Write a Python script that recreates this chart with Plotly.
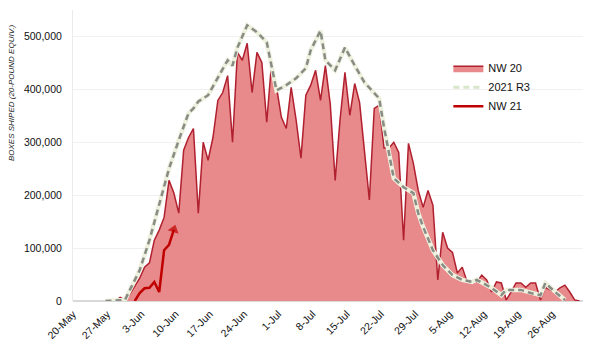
import plotly.graph_objects as go
import pandas as pd

# NW 20 daily boxes (thousands), starting 27-May
nw20_start = "2021-05-27"
nw20_values = [0, 7, 2, 13, 28, 43, 64, 72, 115, 134, 158, 228, 204, 166, 285, 309, 326, 166,
               300, 266, 309, 379, 394, 426, 300, 470, 455, 487, 394, 470, 451, 338, 451, 404,
               347, 326, 404, 343, 270, 389, 408, 436, 379, 445, 372, 228, 343, 432, 351, 411,
               375, 285, 191, 364, 370, 289, 289, 300, 281, 115, 298, 260, 209, 177, 209, 181,
               40, 130, 100, 92, 53, 64, 36, 34, 36, 49, 40, 17, 36, 34, 2, 17, 34, 34, 26, 34,
               34, 2, 26, 21, 17, 25, 30, 17, 2, 0]

# 2021 R3 projection (thousands)
r3_dates = ["2021-05-25", "2021-05-29", "2021-05-30", "2021-06-01", "2021-06-03", "2021-06-05",
            "2021-06-07", "2021-06-09", "2021-06-11", "2021-06-12", "2021-06-13", "2021-06-15",
            "2021-06-17", "2021-06-19", "2021-06-20", "2021-06-21", "2021-06-23", "2021-06-25",
            "2021-06-27", "2021-06-28", "2021-06-29", "2021-07-01", "2021-07-03", "2021-07-05",
            "2021-07-06", "2021-07-08", "2021-07-09", "2021-07-11", "2021-07-13", "2021-07-15",
            "2021-07-17", "2021-07-20", "2021-07-21", "2021-07-23", "2021-07-25", "2021-07-27",
            "2021-07-28", "2021-07-29", "2021-07-31", "2021-08-02", "2021-08-04", "2021-08-06",
            "2021-08-08", "2021-08-09", "2021-08-12", "2021-08-14", "2021-08-15", "2021-08-18",
            "2021-08-20", "2021-08-22", "2021-08-23", "2021-08-25", "2021-08-27"]
r3_values = [0, 2, 21, 58, 115, 181,
             250, 304, 355, 364, 377, 389,
             423, 455, 445, 479, 521, 508,
             489, 442, 398, 408, 421, 440,
             474, 511, 455, 436, 479, 445,
             413, 383, 328, 232, 215, 204,
             166, 140, 96, 68, 49, 40,
             36, 40, 25, 11, 21, 21,
             15, 11, 34, 17, 2]

# NW 21 daily boxes (thousands), starting 31-May
nw21_start = "2021-05-31"
nw21_values = [0, 15, 24, 25, 36, 17, 96, 106, 135]

tick_dates = pd.date_range("2021-05-20", "2021-08-26", freq="7D")
y_ticks = [0, 100000, 200000, 300000, 400000, 500000]

nw20_x = pd.date_range(nw20_start, periods=len(nw20_values), freq="D")
nw21_x = pd.date_range(nw21_start, periods=len(nw21_values), freq="D")

fig = go.Figure()

fig.add_trace(go.Scatter(
    x=nw20_x, y=[v * 1000 for v in nw20_values], name="NW 20",
    mode="lines", fill="tozeroy", fillcolor="#E8898B",
    line=dict(color="#B0202F", width=1.5),
))

fig.add_trace(go.Scatter(
    x=pd.to_datetime(r3_dates), y=[v * 1000 for v in r3_values],
    mode="lines", showlegend=False, hoverinfo="skip",
    line=dict(color="#EFF1DF", width=4.5),
))
fig.add_trace(go.Scatter(
    x=pd.to_datetime(r3_dates), y=[v * 1000 for v in r3_values], name="2021 R3",
    mode="lines", showlegend=False,
    line=dict(color="#878C84", width=2.5, dash="6px,4px"),
))
fig.add_trace(go.Scatter(
    x=[None], y=[None], name="2021 R3", mode="lines",
    line=dict(color="#D8E6CC", width=3, dash="6px,4px"),
))

fig.add_trace(go.Scatter(
    x=nw21_x, y=[v * 1000 for v in nw21_values], name="NW 21",
    mode="lines+markers",
    line=dict(color="#C00000", width=2.5),
    marker=dict(symbol="triangle-up", angleref="previous", color="#C00000",
                line=dict(width=0),
                size=[0] * (len(nw21_values) - 1) + [10]),
))

font_family = "Liberation Sans, Arial, sans-serif"

fig.update_layout(
    width=600, height=352,
    margin=dict(l=73, r=17, t=10, b=51),
    paper_bgcolor="white", plot_bgcolor="white",
    font=dict(family=font_family, size=11, color="#111111"),
    showlegend=True,
    legend=dict(x=0.736, y=0.85, xanchor="left", yanchor="top",
                bgcolor="rgba(0,0,0,0)", font=dict(size=11, color="#111111"),
                tracegroupgap=0, itemwidth=30),
    xaxis=dict(
        type="date",
        range=["2021-05-18 08:40", "2021-08-30 17:00"],
        tickvals=tick_dates, tickformat="%-d-%b", tickangle=-45,
        showgrid=False, showline=False, zeroline=False,
        tickfont=dict(size=10.5, color="#111111"),
        ticks="", ticklabelshift=-8, ticklabelstandoff=4,
    ),
    yaxis=dict(
        range=[0, 550000], tickvals=y_ticks, tickformat=",",
        showgrid=True, gridcolor="#F0F0F0", gridwidth=1,
        showline=True, linecolor="#EBEBEB", linewidth=1,
        zeroline=True, zerolinecolor="#D9D9D9",
        tickfont=dict(size=10.5, color="#111111"),
        ticklabelstandoff=8, ticks="",
    ),
    annotations=[dict(
        text="<i>BOXES SHIPED (20-POUND EQUIV.)</i>", textangle=-90,
        xref="paper", yref="paper", x=-0.1216, y=0.718,
        xanchor="center", yanchor="middle", showarrow=False,
        font=dict(size=8, color="#222222", family=font_family),
    )],
)

fig.write_html("out.html")
